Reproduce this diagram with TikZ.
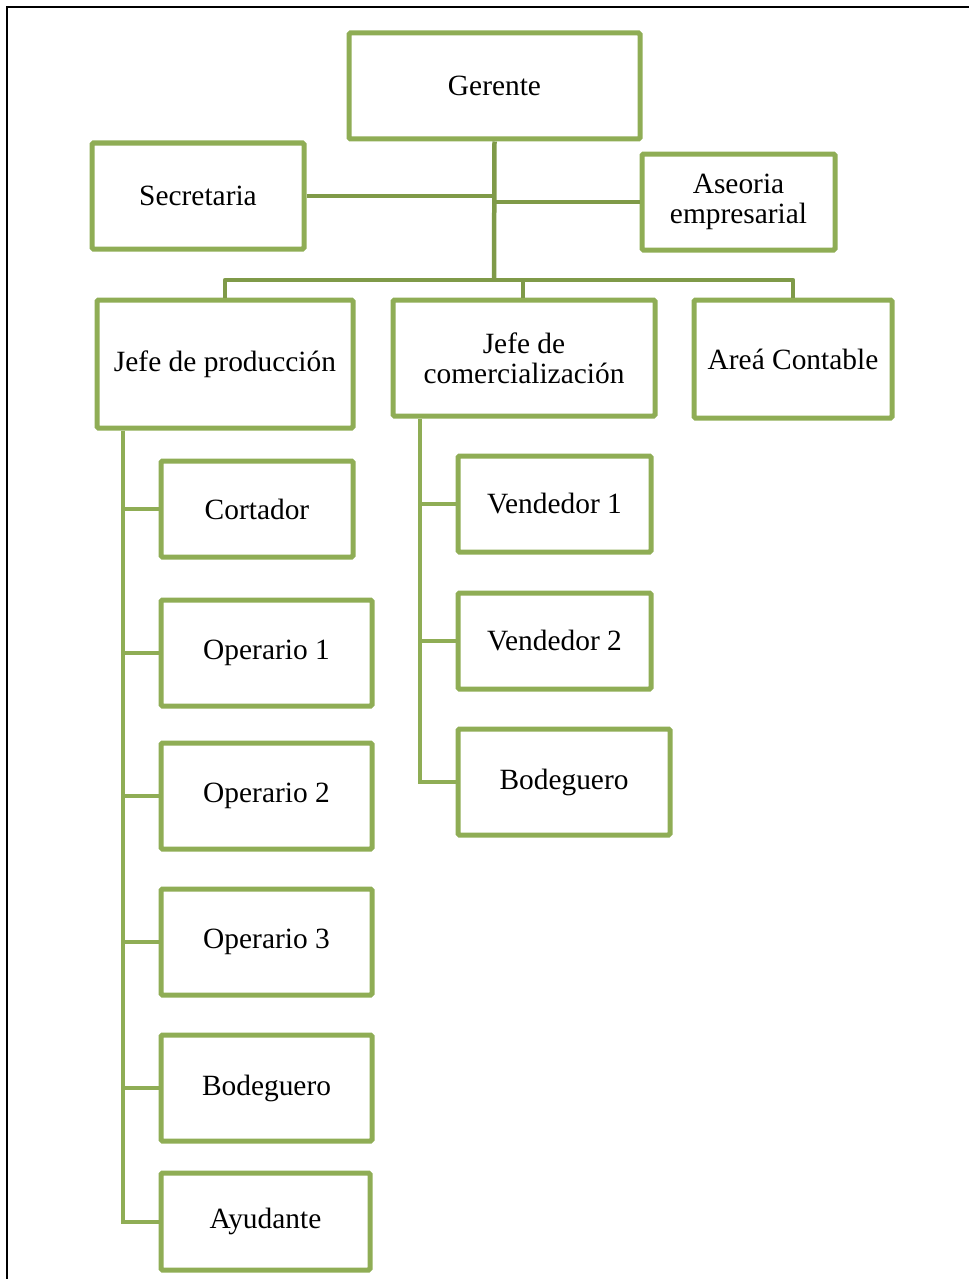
\documentclass[tikz,border=0pt]{standalone}
\usepackage{fontspec}
\setmainfont{Liberation Serif}
\definecolor{boxg}{HTML}{8FAD55}
\definecolor{lineg}{HTML}{7F9A48}
\begin{document}
\begin{tikzpicture}[x=1pt,y=-1pt,
  box/.style={draw=boxg,line width=5pt,rounded corners=1.5pt,fill=white,
    align=center,inner sep=0pt,font=\fontsize{29.4}{30}\selectfont},
  toplink/.style={draw=lineg,line width=4.5pt},
  sublink/.style={draw=boxg,line width=4pt}]
\useasboundingbox (0,0) rectangle (969,1279);
\draw[line width=2pt,black] (6.5,1279) -- (6.5,7.5) -- (969,7.5);
% nodes
\node[box,minimum width=291pt,minimum height=106pt] (ger) at (494.5,86) {Gerente};
\node[box,minimum width=212pt,minimum height=106pt] (sec) at (198,196) {Secretaria};
\node[box,minimum width=193pt,minimum height=96pt] (ase) at (738.5,202) {Aseoria\\empresarial};
\node[box,minimum width=256pt,minimum height=128pt] (jp) at (225,364) {Jefe de producción};
\node[box,minimum width=262pt,minimum height=116pt] (jc) at (524,358) {Jefe de\\comercialización};
\node[box,minimum width=198pt,minimum height=118pt] (ac) at (793,359) {Areá Contable};
\node[box,minimum width=192pt,minimum height=96pt] (cor) at (257,509) {Cortador};
\node[box,minimum width=211pt,minimum height=106pt] (op1) at (266.5,653) {Operario 1};
\node[box,minimum width=211pt,minimum height=106pt] (op2) at (266.5,796) {Operario 2};
\node[box,minimum width=211pt,minimum height=106pt] (op3) at (266.5,942) {Operario 3};
\node[box,minimum width=211pt,minimum height=106pt] (bod1) at (266.5,1088) {Bodeguero};
\node[box,minimum width=209pt,minimum height=97pt] (ayu) at (265.5,1221.5) {Ayudante};
\node[box,minimum width=193pt,minimum height=96pt] (ven1) at (554.5,504) {Vendedor 1};
\node[box,minimum width=193pt,minimum height=96pt] (ven2) at (554.5,641) {Vendedor 2};
\node[box,minimum width=212pt,minimum height=106pt] (bod2) at (564,782) {Bodeguero};
% coordinates
\coordinate (bus) at (494,280);
\coordinate (spp) at (123,0);
\coordinate (spc) at (420,0);
% top connectors
\begin{scope}[on background layer/.style={}]
\draw[toplink] (ger.south) -- (bus);
\draw[toplink] (sec.east) -- (sec.east -| ger.south);
\draw[toplink] (ase.west) -- (ase.west -| ger.south);
\draw[toplink,line join=round] (jp.north) -- (jp.north |- bus) -- (ac.north |- bus) -- (ac.north);
\draw[toplink] (jc.north -| 523,0) -- (bus -| 523,0);
\end{scope}
% production
\draw[sublink] (jp.south -| spp) |- (ayu.west);
\foreach \n in {cor,op1,op2,op3,bod1}
  \draw[sublink] (\n.west) -- (\n.west -| spp);
% commercial
\draw[sublink] (jc.south -| spc) |- (bod2.west);
\foreach \n in {ven1,ven2}
  \draw[sublink] (\n.west) -- (\n.west -| spc);
\end{tikzpicture}
\end{document}
